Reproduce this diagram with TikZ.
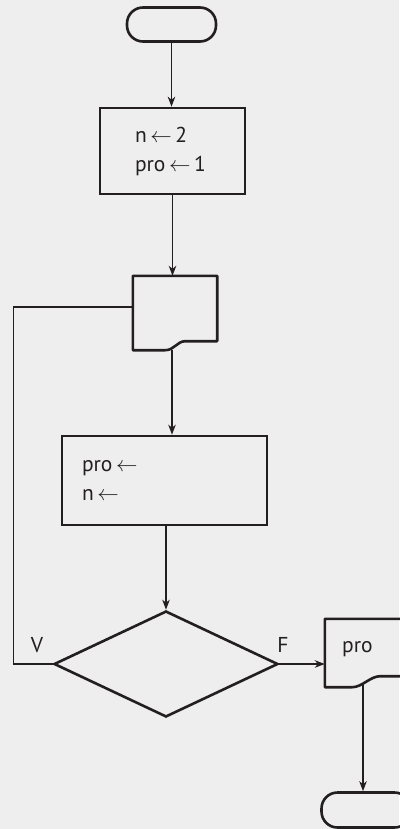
\RequirePackage{fix-cm}
\documentclass[tikz,border=0pt]{standalone}
\usepackage{fontspec}
\setmainfont{PT Sans}
\usetikzlibrary{shapes.geometric,arrows.meta}
\definecolor{bgfill}{HTML}{EEEEEE}
\definecolor{ink}{HTML}{231F20}

\begin{document}
\begin{tikzpicture}[
    x=1pt,
    y=-1pt,
    every node/.style={font=\fontsize{21.5}{29}\selectfont, text=ink},
    terminal/.style={draw=ink, line width=2.6pt, rectangle, rounded corners=16pt,
      minimum width=89pt, minimum height=34pt},
    procbox/.style={draw=ink, line width=2.6pt, rectangle, align=left,
      minimum height=86pt},
    docbox/.style={rectangle, minimum width=84pt},
    docline/.style={draw=ink, line width=2.6pt, line join=round},
    decision/.style={draw=ink, line width=2.6pt, diamond, inner sep=0pt,
      minimum width=224pt, minimum height=106pt},
    flow/.style={draw=ink, line width=1.4pt},
    flowarrow/.style={flow, -{Stealth[length=10pt,width=7.5pt,inset=3pt]}}
  ]
    \useasboundingbox (0,0) rectangle (399,829);
    \fill[bgfill] (0,0) rectangle (399,829);

    \node[terminal] (start) at (171.5,24.5) {};
    \node[procbox, text width=75pt, inner xsep=35pt] (init) at (172.5,151)
      {n\,$\leftarrow$\,2\\pro\,$\leftarrow$\,1};
    \node[docbox, minimum height=74pt] (read) at (175,313) {};
    \node[procbox, text width=165pt, inner xsep=20pt, minimum height=89pt] (update) at (164.5,480.5)
      {pro\,$\leftarrow$\\n\,$\leftarrow$};
    \node[decision] (test) at (166,664) {};
    \node[docbox, minimum height=68pt] (show) at (367,653) {};
    \node[anchor=base west, inner xsep=0pt] (showtext) at (342,652) {pro};
    \node[terminal, minimum height=35pt] (stop) at (366,810) {};

    \draw[docline] (read.north west) -- (read.north east) -- ([yshift=9pt]read.south east)
      -- ++(-32,0) .. controls +(-8,0) and +(9,0) .. ++(-20,9) -- (read.south west) -- cycle;
    \draw[docline] (show.north west) -- (show.north east) -- ([yshift=11pt]show.south east)
      -- ++(-29,0) .. controls +(-10,0) and +(10,0) .. ++(-28,11) -- (show.south west) -- cycle;

    \node (vlabel) at (37,645) {V};
    \node (flabel) at (283,645) {F};

    \draw[flowarrow] (start.south) -- (start.south |- init.north);
    \draw[flowarrow] (init.south) -- (init.south |- read.north);
    \draw[flowarrow] ([xshift=-3pt]read.south) -- ([xshift=-3pt]read.south |- update.north);
    \draw[flowarrow] (test.north |- update.south) -- (test.north);
    \draw[flow] ([yshift=6pt]read.west) -| ([xshift=-39pt]test.west) -- (test.west);
    \draw[flowarrow] (test.east) -- (test.east -| show.west);
    \draw[flowarrow] ([xshift=-4pt,yshift=3pt]show.south) -- ([xshift=-3pt]stop.north);
  \end{tikzpicture}
\end{document}
